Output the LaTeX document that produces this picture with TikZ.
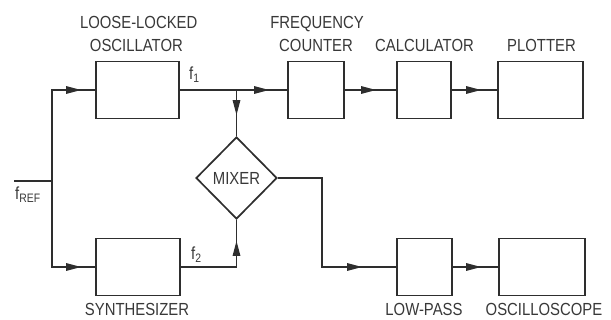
\documentclass[tikz,border=0pt]{standalone}
\usepackage{fontspec}
\setmainfont{Liberation Sans}[FakeStretch=0.85]
\usetikzlibrary{arrows.meta,shapes.geometric,decorations.markings}

\begin{document}
\begin{tikzpicture}[x=1pt,y=-1pt,
  blk/.style={draw=black!82,line width=1.7pt,minimum height=57pt,inner sep=0pt},
  lbl/.style={anchor=base,inner sep=0pt,text=black!78,font=\fontsize{17.5}{22}\selectfont},
  sig/.style={anchor=base west,inner sep=0pt,text=black!78,font=\fontsize{17.5}{22}\selectfont},
  wire/.style={draw=black!82,line width=1.4pt},
  flow/.style={wire,postaction={decorate},decoration={markings,
      mark=at position #1 with {\arrow[black!82]{Triangle[length=15pt,width=7.5pt]}}}}
]
\useasboundingbox (0,0) rectangle (611,320);

% blocks of the upper chain
\node[blk,minimum width=83pt] (osc)   at (137.5,90) {};
\node[blk,minimum width=56pt] (freq)  at (316,90)   {};
\node[blk,minimum width=54pt] (calc)  at (424,90)   {};
\node[blk,minimum width=85pt] (plot)  at (540.5,90) {};

% blocks of the lower chain
\node[blk,minimum width=84pt] (synth) at (138,267)  {};
\node[blk,minimum width=55pt] (lp)    at (424.5,267) {};
\node[blk,minimum width=86pt] (scope) at (542,267)  {};

% mixer
\node[diamond,draw=black!82,line width=1.7pt,minimum width=81pt,minimum height=82pt,
      inner sep=0pt,text=black!78,font=\fontsize{17.5}{22}\selectfont] (mix) at (236.5,178) {MIXER};

% block titles
\node[lbl] (tOsc1) at (138.7,29) {LOOSE-LOCKED};
\node[lbl] (tOsc2) at (136.4,52) {OSCILLATOR};
\node[lbl] (tFrq1) at (317,29)   {FREQUENCY};
\node[lbl] (tFrq2) at (316,52)   {COUNTER};
\node[lbl] (tCalc) at (424.5,52) {CALCULATOR};
\node[lbl] (tPlot) at (541.5,52) {PLOTTER};
\node[lbl] (tSyn)  at (137,315.5) {SYNTHESIZER};
\node[lbl] (tLp)   at (424,315.5) {LOW-PASS};
\node[lbl] (tScp)  at (544,315.5) {OSCILLOSCOPE};

% signal names
\node[sig] (f1)   at (189,80)  {f\textsubscript{1}};
\node[sig] (f2)   at (191,260) {f\textsubscript{2}};
\node[sig] (fref) at (15,200)  {f\textsubscript{REF}};

% junction points
\coordinate (refin) at (14,181);
\coordinate (refj)  at (52,181);
\coordinate (j1)    at (236.5,90);
\coordinate (mxo)   at (322,178);

% reference distribution
\draw[wire] (refin) -- (refj);
\draw[flow=-14pt] (refj) |- (osc.west);
\draw[flow=-14pt] (refj) |- (synth.west);

% upper chain
\draw[flow=-18pt] (osc.east) -- (freq.west);
\draw[flow=-21pt] (j1) -- (mix.north);
\draw[flow=-20pt] (freq.east) -- (calc.west);
\draw[flow=-16pt] (calc.east) -- (plot.west);

% lower chain
\draw[flow=-21pt] (synth.east) -| (mix.south);
\draw[flow=-34pt] (mix.east) -- (mxo) |- (lp.west);
\draw[flow=-17pt] (lp.east) -- (scope.west);
\end{tikzpicture}
\end{document}
